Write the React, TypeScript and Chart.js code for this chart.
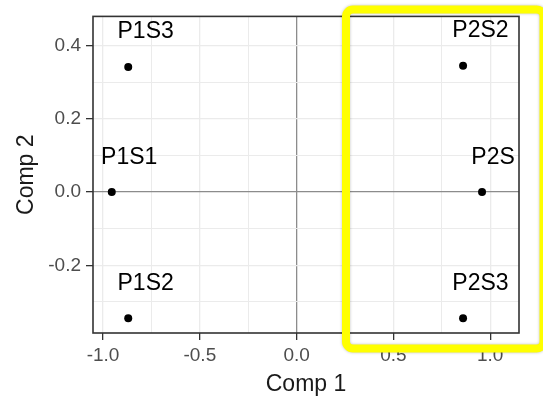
import { useEffect, useRef } from 'react';
import { Chart, registerables } from 'chart.js';

Chart.register(...registerables);

const sampleLabels = ['P1S1', 'P1S2', 'P1S3', 'P2S1', 'P2S2', 'P2S3'];
const comp1 = [-0.955, -0.87, -0.87, 0.958, 0.86, 0.86];
const comp2 = [0.0, -0.345, 0.342, 0.0, 0.345, -0.345];
const xMajorTicks = [-1.0, -0.5, 0.0, 0.5, 1.0];
const xMinorTicks = [-0.75, -0.25, 0.25, 0.75];
const yMajorTicks = [-0.2, 0.0, 0.2, 0.4];
const yMinorTicks = [-0.3, -0.1, 0.1, 0.3];
const xTitle = 'Comp 1';
const yTitle = 'Comp 2';

const FONT = "'Liberation Sans', Arial, sans-serif";
const LABEL_DX = 0.09;
const LABEL_DY = 0.095;

function isMajor(list: number[], v: number) {
  return list.some((m) => Math.abs(m - v) < 1e-9);
}

export default function App() {
  const ref = useRef<HTMLCanvasElement | null>(null);

  useEffect(() => {
    document.body.style.margin = '0';
    const canvas = ref.current;
    if (!canvas) return;

    const points = comp1.map((x, i) => ({ x, y: comp2[i] }));

    const plugin = {
      id: 'decor',
      beforeDraw(chart: any) {
        const ctx = chart.ctx;
        ctx.save();
        ctx.fillStyle = '#ffffff';
        ctx.fillRect(0, 0, chart.width, chart.height);
        ctx.restore();
      },
      afterDatasetsDraw(chart: any) {
        const ctx = chart.ctx;
        const area = chart.chartArea;
        const xs = chart.scales.x;
        const ys = chart.scales.y;
        // labels (clipped to the panel)
        ctx.save();
        ctx.beginPath();
        ctx.rect(area.left, area.top, area.right - area.left - 3, area.bottom - area.top);
        ctx.clip();
        ctx.fillStyle = '#000000';
        ctx.font = `23px ${FONT}`;
        ctx.textAlign = 'center';
        ctx.textBaseline = 'middle';
        sampleLabels.forEach((lab, i) => {
          const px = xs.getPixelForValue(comp1[i] + LABEL_DX);
          const py = ys.getPixelForValue(comp2[i] + LABEL_DY);
          ctx.fillText(lab, px, py);
        });
        ctx.restore();
        // panel border
        ctx.save();
        ctx.strokeStyle = '#333333';
        ctx.lineWidth = 1.6;
        ctx.strokeRect(area.left, area.top, area.right - area.left, area.bottom - area.top);
        ctx.restore();
      },
      afterDraw(chart: any) {
        const ctx = chart.ctx;
        ctx.save();
        ctx.shadowColor = 'rgba(0,0,0,0.25)';
        ctx.shadowBlur = 3;
        ctx.strokeStyle = '#ffff00';
        ctx.lineWidth = 8;
        ctx.beginPath();
        (ctx as any).roundRect(346, 9.5, 197.5, 339, 7);
        ctx.stroke();
        ctx.restore();
      },
    };

    const chart = new Chart(canvas, {
      type: 'scatter',
      data: {
        datasets: [
          {
            data: points,
            backgroundColor: '#000000',
            borderWidth: 0,
            pointRadius: 4,
            pointHoverRadius: 4,
          },
        ],
      },
      options: {
        animation: false,
        responsive: false,
        devicePixelRatio: 1,
        events: [],
        layout: { padding: { left: 0, top: 14, right: 24, bottom: 0 } },
        plugins: {
          legend: { display: false },
          tooltip: { enabled: false },
          title: { display: false },
        },
        scales: {
          x: {
            type: 'linear',
            min: -1.052,
            max: 1.149,
            afterBuildTicks(scale: any) {
              scale.ticks = [...xMajorTicks, ...xMinorTicks]
                .sort((a, b) => a - b)
                .map((v) => ({ value: v }));
            },
            afterFit(scale: any) {
              scale.height = 66;
            },
            border: { display: false },
            grid: {
              color: (c: any) =>
                c.tick && Math.abs(c.tick.value) < 1e-9 ? '#8c8c8c' : '#ebebeb',
              lineWidth: (c: any) =>
                c.tick && isMajor(xMajorTicks, c.tick.value) ? 1.3 : 1,
              tickColor: (c: any) =>
                c.tick && isMajor(xMajorTicks, c.tick.value) ? '#333333' : 'rgba(0,0,0,0)',
              tickLength: 7,
              tickWidth: 1.3,
            },
            ticks: {
              autoSkip: false,
              maxRotation: 0,
              padding: 4,
              color: '#4d4d4d',
              font: { family: FONT, size: 19 },
              callback: (v: any) => (isMajor(xMajorTicks, Number(v)) ? Number(v).toFixed(1) : ''),
            },
            title: {
              display: true,
              text: xTitle,
              color: '#1a1a1a',
              font: { family: FONT, size: 23 },
              padding: { top: 0, bottom: 1 },
            },
          },
          y: {
            type: 'linear',
            min: -0.385,
            max: 0.48,
            afterBuildTicks(scale: any) {
              scale.ticks = [...yMajorTicks, ...yMinorTicks]
                .sort((a, b) => a - b)
                .map((v) => ({ value: v }));
            },
            afterFit(scale: any) {
              scale.width = 93;
            },
            border: { display: false },
            grid: {
              color: (c: any) =>
                c.tick && Math.abs(c.tick.value) < 1e-9 ? '#8c8c8c' : '#ebebeb',
              lineWidth: (c: any) =>
                c.tick && isMajor(yMajorTicks, c.tick.value) ? 1.3 : 1,
              tickColor: (c: any) =>
                c.tick && isMajor(yMajorTicks, c.tick.value) ? '#333333' : 'rgba(0,0,0,0)',
              tickLength: 7,
              tickWidth: 1.3,
            },
            ticks: {
              autoSkip: false,
              padding: 5,
              color: '#4d4d4d',
              font: { family: FONT, size: 19 },
              callback: (v: any) => (isMajor(yMajorTicks, Number(v)) ? Number(v).toFixed(1) : ''),
            },
            title: {
              display: true,
              text: yTitle,
              color: '#1a1a1a',
              font: { family: FONT, size: 23 },
              padding: { top: 13, bottom: 0 },
            },
          },
        },
      },
      plugins: [plugin],
    } as any);

    return () => chart.destroy();
  }, []);

  return (
    <div style={{ position: 'absolute', left: 0, top: 0, width: 543, height: 399 }}>
      <canvas ref={ref} width={543} height={399} style={{ width: 543, height: 399 }} />
    </div>
  );
}
